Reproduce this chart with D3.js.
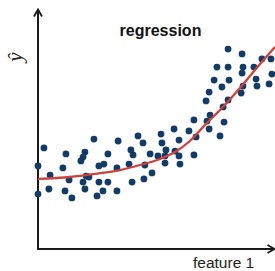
<!DOCTYPE html>
<html>
<head>
<meta charset="utf-8">
<script src="https://cdn.jsdelivr.net/npm/d3@7"></script>
<style>
  body { margin: 0; background: #fff; }
  svg { display: block; }
</style>
</head>
<body>
<div class="chart-container"></div>
<script>
var width = 275;
var height = 271;

// scatter points (feature 1, target)
var featureX = [2.5, 0, 0, 5.1, 4.6, 11.8, 10.5, 11.4, 14.3, 13.1, 18.1, 19.0, 19.8, 19.0, 20.3,
  21.5, 19.8, 23.6, 24.9, 25.7, 27.8, 25.7, 27.4, 29.5, 29.5, 33.8, 33.3, 33.3, 38.4, 39.7,
  39.2, 40.1, 42.2, 44.3, 51.9, 52.3, 47.3, 50.6, 53.6, 45.1, 48.1, 44.7, 57.4, 59.5, 54.0,
  53.6, 57.8, 59.5, 59.9, 63.7, 65.8, 66.7, 65.8, 72.2, 70.9, 72.6, 71.3, 72.2, 76.8, 80.2,
  86.1, 75.5, 80.2, 86.5, 91.1, 94.5, 98.3, 74.3, 80.6, 86.1, 92.0, 92.4, 97.5, 98.7, 77.6,
  86.5, 85.7, 80.2, 78.1, 78.5];
var targetY = [42.1, 34.6, 22.9, 30.8, 25.0, 39.6, 33.8, 24.2, 21.3, 28.8, 36.7, 38.3, 40.4, 27.9, 30.4,
  30.0, 25.0, 45.8, 22.1, 34.6, 35.4, 27.9, 24.2, 27.9, 39.6, 45.0, 33.8, 24.2, 35.4, 27.9,
  41.3, 39.2, 47.1, 44.2, 47.9, 44.2, 39.6, 38.8, 35.8, 35.0, 31.7, 29.2, 50.0, 45.4, 41.3,
  38.8, 40.8, 38.8, 35.4, 49.2, 53.8, 46.7, 39.2, 65.4, 61.7, 55.8, 53.3, 50.0, 47.1, 83.3,
  81.3, 75.8, 75.8, 75.8, 75.8, 79.2, 79.2, 70.4, 70.4, 73.3, 70.8, 67.9, 68.8, 72.9, 67.5,
  67.9, 65.0, 62.1, 59.2, 52.9];

// fitted curve
var curveX = [0, 13.5, 24.1, 34.6, 43.0, 51.5, 57.8, 64.1, 70.5, 76.8, 85.2, 93.7, 100];
var curveY = [29.2, 30.0, 31.3, 32.9, 35.0, 37.5, 40.4, 45.0, 51.7, 57.9, 67.1, 77.1, 84.2];

var titleText = 'regression';
var xLabel = 'feature 1';
var yLabel = 'ŷ';

var points = featureX.map((d, i) => ({x: d, y: targetY[i]}));
var fit = curveX.map((d, i) => ({x: d, y: curveY[i]}));

var x = d3.scaleLinear()
  .domain([0, 100])
  .range([38, 275]);

var y = d3.scaleLinear()
  .domain([0, 100])
  .range([249, 9]);

var svg = d3.select('.chart-container').append('svg')
  .attr('width', width)
  .attr('height', height);

svg.append('defs').append('marker')
    .attr('id', 'arrow')
    .attr('markerUnits', 'userSpaceOnUse')
    .attr('viewBox', '-9 -6 11 12')
    .attr('markerWidth', 11)
    .attr('markerHeight', 12)
    .attr('refX', 0)
    .attr('refY', 0)
    .attr('orient', 'auto')
  .append('path')
    .attr('d', 'M-7,-4L0,0L-7,4')
    .attr('fill', 'none')
    .attr('stroke', '#1a1a1a')
    .attr('stroke-width', 1.8);

// axes: plain lines with open arrow heads
svg.append('line')
  .attr('x1', x.range()[0]).attr('y1', y.range()[0] + 1)
  .attr('x2', x.range()[0]).attr('y2', y.range()[1] + 0.5)
  .attr('stroke', '#1a1a1a')
  .attr('stroke-width', 2)
  .attr('marker-end', 'url(#arrow)');

svg.append('line')
  .attr('x1', x.range()[0] - 1).attr('y1', y.range()[0])
  .attr('x2', x.range()[1] - 0.5).attr('y2', y.range()[0])
  .attr('stroke', '#1a1a1a')
  .attr('stroke-width', 2)
  .attr('marker-end', 'url(#arrow)');

svg.append('g')
  .attr('class', 'dots')
  .selectAll('circle')
  .data(points)
  .enter().append('circle')
    .attr('cx', d => x(d.x))
    .attr('cy', d => y(d.y))
    .attr('r', 3.4)
    .attr('fill', '#133b63');

var line = d3.line()
  .x(d => x(d.x))
  .y(d => y(d.y))
  .curve(d3.curveMonotoneX);

svg.append('path')
  .datum(fit)
  .attr('d', line)
  .attr('fill', 'none')
  .attr('stroke', '#c9443c')
  .attr('stroke-width', 2.3);

svg.append('text')
  .attr('x', 160.5)
  .attr('y', 36)
  .attr('text-anchor', 'middle')
  .style('font-family', '"Liberation Sans", Arial, sans-serif')
  .style('font-weight', 'bold')
  .style('font-size', '16px')
  .attr('fill', '#111')
  .text(titleText);

svg.append('text')
  .attr('x', 193)
  .attr('y', 268)
  .style('font-family', '"Liberation Sans", Arial, sans-serif')
  .style('font-size', '15.5px')
  .attr('fill', '#222')
  .text(xLabel);

svg.append('text')
  .attr('transform', 'translate(22,57) rotate(-90)')
  .attr('text-anchor', 'middle')
  .style('font-family', '"Liberation Serif", serif')
  .style('font-style', 'italic')
  .style('font-size', '21px')
  .attr('fill', '#222')
  .text(yLabel);
</script>
</body>
</html>
